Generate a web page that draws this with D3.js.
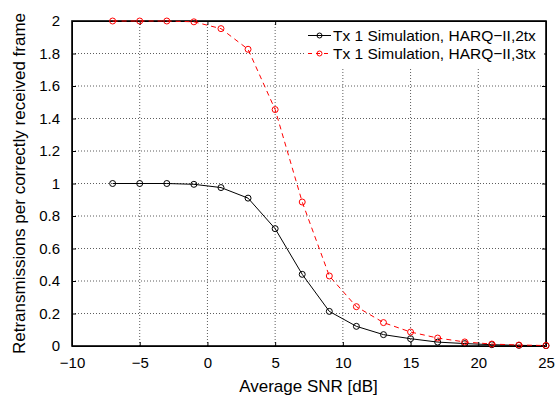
<!DOCTYPE html>
<html>
<head>
<meta charset="utf-8">
<script src="https://cdn.jsdelivr.net/npm/d3@7"></script>
<style>
	body { margin: 0; background: #fff; }
	svg { display: block; font-family: "Liberation Sans", Arial, sans-serif; }
	.grid line { stroke: #333; stroke-dasharray: 1,2; stroke-width: 0.8; }
	.axis path, .axis line { stroke: #000; }
	.axis text { font-size: 15px; fill: #000; }
</style>
</head>
<body>
<div id="chart"></div>
<script>

// chart values
var snr = [-7, -5, -3, -1, 1, 3, 5, 7, 9, 11, 13, 15, 17, 19, 21, 23, 25];
var tx2 = [1.0, 1.0, 1.0, 0.995, 0.975, 0.91, 0.722, 0.441, 0.213, 0.121, 0.07, 0.045, 0.024, 0.015, 0.008, 0.004, 0.002];
var tx3 = [2.0, 2.0, 2.0, 1.995, 1.953, 1.826, 1.455, 0.886, 0.431, 0.242, 0.144, 0.086, 0.049, 0.025, 0.012, 0.006, 0.003];
var seriesNames = ["Tx 1 Simulation, HARQ\u2212II,2tx", "Tx 1 Simulation, HARQ\u2212II,3tx"];
var xTicks = [-10, -5, 0, 5, 10, 15, 20, 25];
var yTicks = [0, 0.2, 0.4, 0.6, 0.8, 1, 1.2, 1.4, 1.6, 1.8, 2];

var margin = {top: 21, right: 12, bottom: 51, left: 72};
var width = 558 - margin.left - margin.right;
var height = 397 - margin.top - margin.bottom;

var x = d3.scaleLinear().domain([-10, 25]).range([0, width]);
var y = d3.scaleLinear().domain([0, 2]).range([height, 0]);

var svg = d3.select("#chart").append("svg")
	.attr("width", 558)
	.attr("height", 397);

var g = svg.append("g")
	.attr("transform", "translate(" + margin.left + "," + margin.top + ")");

// grid
g.append("g").attr("class", "grid")
	.selectAll("line").data(xTicks.slice(1, -1)).enter().append("line")
	.attr("x1", function(d) { return x(d); })
	.attr("x2", function(d) { return x(d); })
	.attr("y1", 0).attr("y2", height);

g.append("g").attr("class", "grid")
	.selectAll("line").data(yTicks.slice(1, -1)).enter().append("line")
	.attr("x1", 0).attr("x2", width)
	.attr("y1", function(d) { return y(d); })
	.attr("y2", function(d) { return y(d); });

// axes, ticks pointing inward
var fmtY = function(d) { return d3.format("")(d); };

g.append("g").attr("class", "x axis")
	.attr("transform", "translate(0," + height + ")")
	.call(d3.axisBottom(x).tickValues(xTicks).tickSizeInner(-4).tickSizeOuter(0).tickPadding(11));

g.append("g").attr("class", "y axis")
	.call(d3.axisLeft(y).tickValues(yTicks).tickFormat(fmtY).tickSizeInner(-4).tickSizeOuter(0).tickPadding(12));

g.append("g").attr("class", "x axis")
	.call(d3.axisTop(x).tickValues(xTicks).tickFormat("").tickSizeInner(-4).tickSizeOuter(0));

g.append("g").attr("class", "y axis")
	.attr("transform", "translate(" + width + ",0)")
	.call(d3.axisRight(y).tickValues(yTicks).tickFormat("").tickSizeInner(-4).tickSizeOuter(0));

// frame
g.append("rect")
	.attr("width", width).attr("height", height)
	.attr("fill", "none").attr("stroke", "#000").attr("stroke-width", 1.6);

// titles
svg.append("text")
	.attr("text-anchor", "middle")
	.attr("x", margin.left + width / 2 - 0.5)
	.attr("y", 392)
	.style("font-size", "17px")
	.text("Average SNR [dB]");

svg.append("text")
	.attr("text-anchor", "middle")
	.attr("transform", "translate(25," + (margin.top + height / 2) + ")rotate(-90)")
	.style("font-size", "17px")
	.text("Retransmissions per correctly received frame");

// series
var series = [
	{name: seriesNames[0], values: tx2, color: "#000", dash: null},
	{name: seriesNames[1], values: tx3, color: "#ff0000", dash: "5,4"}
];

var line = d3.line()
	.x(function(d) { return x(d[0]); })
	.y(function(d) { return y(d[1]); });

series.forEach(function(s) {
	var pts = d3.zip(snr, s.values);
	g.append("path")
		.datum(pts)
		.attr("fill", "none")
		.attr("stroke", s.color)
		.attr("stroke-width", 1)
		.attr("stroke-dasharray", s.dash)
		.attr("d", line);
	g.selectAll(null).data(pts).enter().append("circle")
		.attr("cx", function(d) { return x(d[0]); })
		.attr("cy", function(d) { return y(d[1]); })
		.attr("r", 3)
		.attr("fill", "none")
		.attr("stroke", s.color)
		.attr("stroke-width", 1);
});

// legend
var legend = g.append("g").attr("transform", "translate(" + (width - 242) + ",1)");
legend.append("rect")
	.attr("width", 240).attr("height", 45)
	.attr("fill", "#fff");

series.forEach(function(s, i) {
	var row = legend.append("g").attr("transform", "translate(0," + (13.5 + i * 18) + ")");
	row.append("line")
		.attr("x1", 4).attr("x2", 27)
		.attr("stroke", s.color)
		.attr("stroke-dasharray", s.dash ? "4,4" : null);
	row.append("circle")
		.attr("cx", 15.5).attr("r", 2.5)
		.attr("fill", "none").attr("stroke", s.color);
	row.append("text")
		.attr("x", 29).attr("dy", "0.35em")
		.style("font-size", "15.5px")
		.text(s.name);
});

</script>
</body>
</html>
